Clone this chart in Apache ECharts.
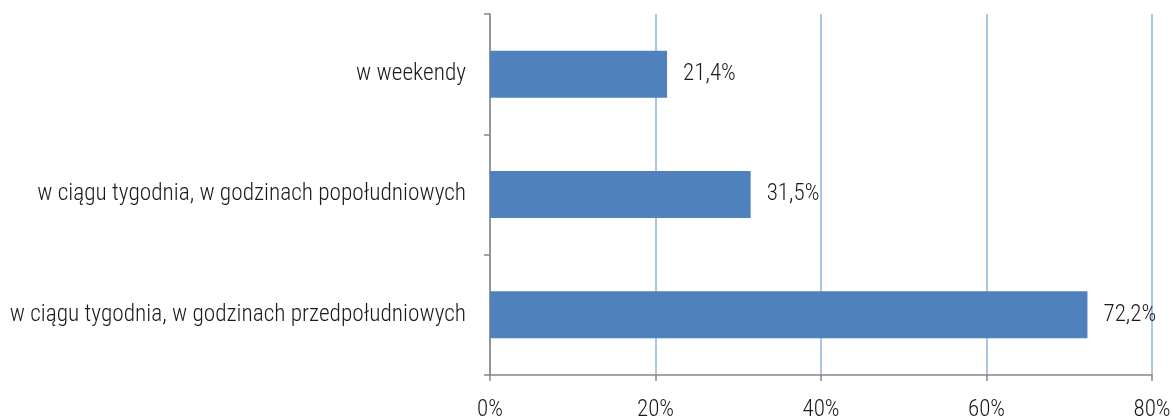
<!DOCTYPE html>
<html>
<head>
<meta charset="utf-8">
<script src="https://cdn.jsdelivr.net/npm/echarts@6/dist/echarts.min.js"></script>
<style>
  html, body { margin: 0; padding: 0; background: #fff; }
  #chart { width: 1173px; height: 419px; }
</style>
</head>
<body>
<div id="chart"></div>
<script>
// Pory korzystania – odsetek wskazań (kategorie od dołu do góry)
const categories = [
  'w ciągu tygodnia, w godzinach przedpołudniowych',
  'w ciągu tygodnia, w godzinach popołudniowych',
  'w weekendy'
];
const values = [72.2, 31.5, 21.4];
const axisMax = 80;
const axisStep = 20;

const FONT = '"Roboto Condensed", "Liberation Sans Narrow", Roboto, sans-serif';
const fmt = v => v.toFixed(1).replace('.', ',') + '%';

const chart = echarts.init(document.getElementById('chart'), null, { renderer: 'canvas' });
chart.setOption({
  animation: false,
  grid: {
    left: 490, right: 21, top: 14, bottom: 44,
    containLabel: false,
    outerBoundsMode: 'none'
  },
  xAxis: {
    type: 'value',
    min: 0,
    max: axisMax,
    interval: axisStep,
    axisLine: { show: true, lineStyle: { color: '#868686', width: 1.5 } },
    axisTick: { show: true, length: 6, lineStyle: { color: '#868686', width: 1.5 } },
    axisLabel: {
      formatter: v => v + '%',
      color: '#1a1a1a',
      fontFamily: FONT,
      fontWeight: 300,
      fontSize: 23,
      margin: 24
    },
    splitLine: { show: true, lineStyle: { color: '#8db3e2', width: 1.5 } }
  },
  yAxis: {
    type: 'category',
    data: categories,
    axisLine: { show: true, lineStyle: { color: '#868686', width: 1.5 } },
    axisTick: { show: true, length: 6, lineStyle: { color: '#868686', width: 1.5 } },
    axisLabel: {
      color: '#1a1a1a',
      fontFamily: FONT,
      fontWeight: 300,
      fontSize: 23.3,
      margin: 24,
      padding: [3, 0, 0, 0]
    },
    splitLine: { show: false }
  },
  series: [{
    type: 'bar',
    data: values,
    barWidth: 47,
    itemStyle: { color: '#4f81bd' },
    label: {
      show: true,
      position: 'right',
      distance: 16,
      formatter: p => fmt(p.value),
      color: '#1a1a1a',
      fontFamily: FONT,
      fontWeight: 300,
      fontSize: 23,
      padding: [3, 0, 0, 0]
    }
  }]
});
</script>
</body>
</html>
